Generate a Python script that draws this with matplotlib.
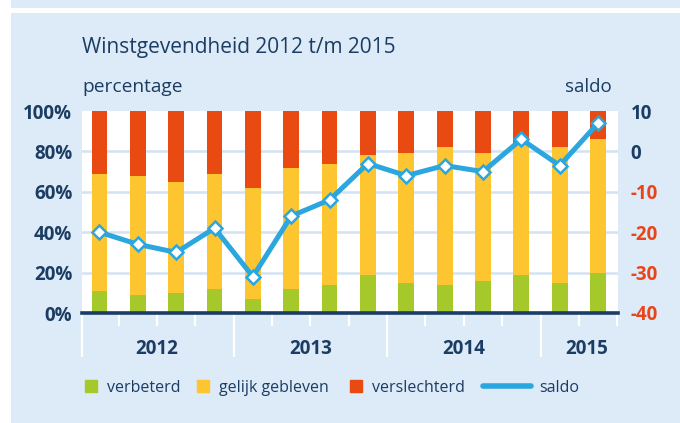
import numpy as np
import matplotlib
matplotlib.use("Agg")
from matplotlib import pyplot as plt
from matplotlib.lines import Line2D
from matplotlib.patches import Rectangle

plt.rcParams['font.family'] = ['Open Sans', 'DejaVu Sans']

# quarters 2012 Q1 .. 2015 Q2
verbeterd = [11, 9, 10, 12, 7, 12, 14, 19, 15, 14, 16, 19, 15, 20]
gelijk = [58, 59, 55, 57, 55, 60, 60, 59, 64, 68, 63, 64, 67, 66]
verslechterd = [31, 32, 35, 31, 38, 28, 26, 22, 21, 18, 21, 17, 18, 14]
saldo = [-20, -23, -25, -19, -31, -16, -12, -3, -6, -3.5, -5, 3, -3.5, 7]
years = ["2012", "2013", "2014", "2015"]
year_pos = [1.5, 5.5, 9.5, 12.7]

navy = "#1b3d63"
red_txt = "#e8461a"
c_green = "#a5c92a"
c_yellow = "#fdc530"
c_red = "#e84a12"
c_line = "#2ba6de"
bg = "#ddeaf8"
grid = "#d3e3f3"

fig = plt.figure(figsize=(6.8, 4.23), dpi=100)
fig.patch.set_facecolor("white")
fig.patches.append(Rectangle((11/680, 1-8/423), 1, 8/423, transform=fig.transFigure,
                             facecolor=bg, edgecolor="none", zorder=-10))
fig.patches.append(Rectangle((11/680, 0), 1, 1-13/423, transform=fig.transFigure,
                             facecolor=bg, edgecolor="none", zorder=-10))

ax = fig.add_axes([82/680, 110/423, 536/680, 202/423])
ax.set_facecolor("white")
x = np.arange(len(verbeterd))
b1 = np.array(verbeterd)
b2 = b1 + np.array(gelijk)
w = 0.41
ax.bar(x, verbeterd, w, color=c_green, zorder=3)
ax.bar(x, gelijk, w, bottom=b1, color=c_yellow, zorder=3)
ax.bar(x, verslechterd, w, bottom=b2, color=c_red, zorder=3)
ax.set_xlim(-0.456, 13.52)
ax.set_ylim(0, 100)
for g in [20, 40, 60, 80]:
    ax.axhline(g, color=grid, lw=1.8, zorder=1)
ax.axhline(0, color=navy, lw=2.6, zorder=5, clip_on=False)
ax.set_yticks([0, 20, 40, 60, 80, 100])
ax.set_yticklabels(["0%", "20%", "40%", "60%", "80%", "100%"])
for s in ax.spines.values():
    s.set_visible(False)

# quarter ticks and year separators
ax.set_xticks([-0.456, 3.5, 7.5, 11.5])
ax.set_xticklabels([])
ax.set_xticks([0.5, 1.5, 2.5, 4.5, 5.5, 6.5, 8.5, 9.5, 10.5, 12.5, 13.5], minor=True)
ax.tick_params(axis="x", which="major", length=32, width=1.6, color="white", direction="out")
ax.tick_params(axis="x", which="minor", length=9, width=1.6, color="white", direction="out")
ax.tick_params(axis="y", length=0, pad=7, labelsize=13.5, labelcolor=navy)
for t in ax.get_yticklabels():
    t.set_fontweight("bold")
for yr, p in zip(years, year_pos):
    ax.text(p, -0.18, yr, transform=ax.get_xaxis_transform(), ha="center", va="center",
            fontsize=13.5, fontweight="bold", color=navy)

ax2 = ax.twinx()
ax2.set_ylim(-40, 10)
ax2.plot(x, saldo, color=c_line, lw=3.6, marker="D", markersize=7.5,
         markerfacecolor="white", markeredgecolor=c_line, markeredgewidth=1.8, zorder=6)
ax2.set_yticks([-40, -30, -20, -10, 0, 10])
ax2.set_yticklabels(["-40", "-30", "-20", "-10", "0", "10"])
ax2.tick_params(axis="y", length=0, pad=9, labelsize=13.5)
for t, v in zip(ax2.get_yticklabels(), [-40, -30, -20, -10, 0, 10]):
    t.set_fontweight("bold")
    t.set_color(red_txt if v < 0 else navy)
for s in ax2.spines.values():
    s.set_visible(False)

fig.text(82/680, 1-47/423, "Winstgevendheid 2012 t/m 2015", fontsize=15, color=navy,
         ha="left", va="center")
fig.text(82/680, 1-87/423, "percentage", fontsize=13.8, color=navy, ha="left", va="center")
fig.text(612/680, 1-87/423, "saldo", fontsize=13.5, color=navy, ha="right", va="center")

# legend, one entry at a time so each sits where the reference has it
entries = [
    (Line2D([], [], marker="s", ls="none", markersize=8.5, color=c_green), "verbeterd", 80, 1.0),
    (Line2D([], [], marker="s", ls="none", markersize=8.5, color=c_yellow), "gelijk gebleven", 192, 1.0),
    (Line2D([], [], marker="s", ls="none", markersize=8.5, color=c_red), "verslechterd", 345, 1.0),
    (Line2D([], [], lw=4, color=c_line, solid_capstyle="round"), "saldo", 480, 3.0),
]
for h, lab, xp, hl in entries:
    lg = fig.legend([h], [lab], loc="center left", bbox_to_anchor=(xp/680, 1-388/423),
                    frameon=False, fontsize=11.5, handlelength=hl, handletextpad=0.5,
                    borderaxespad=0, borderpad=0.2)
    for t in lg.get_texts():
        t.set_color(navy)

fig.savefig("out.png", dpi=100, facecolor=fig.get_facecolor())
